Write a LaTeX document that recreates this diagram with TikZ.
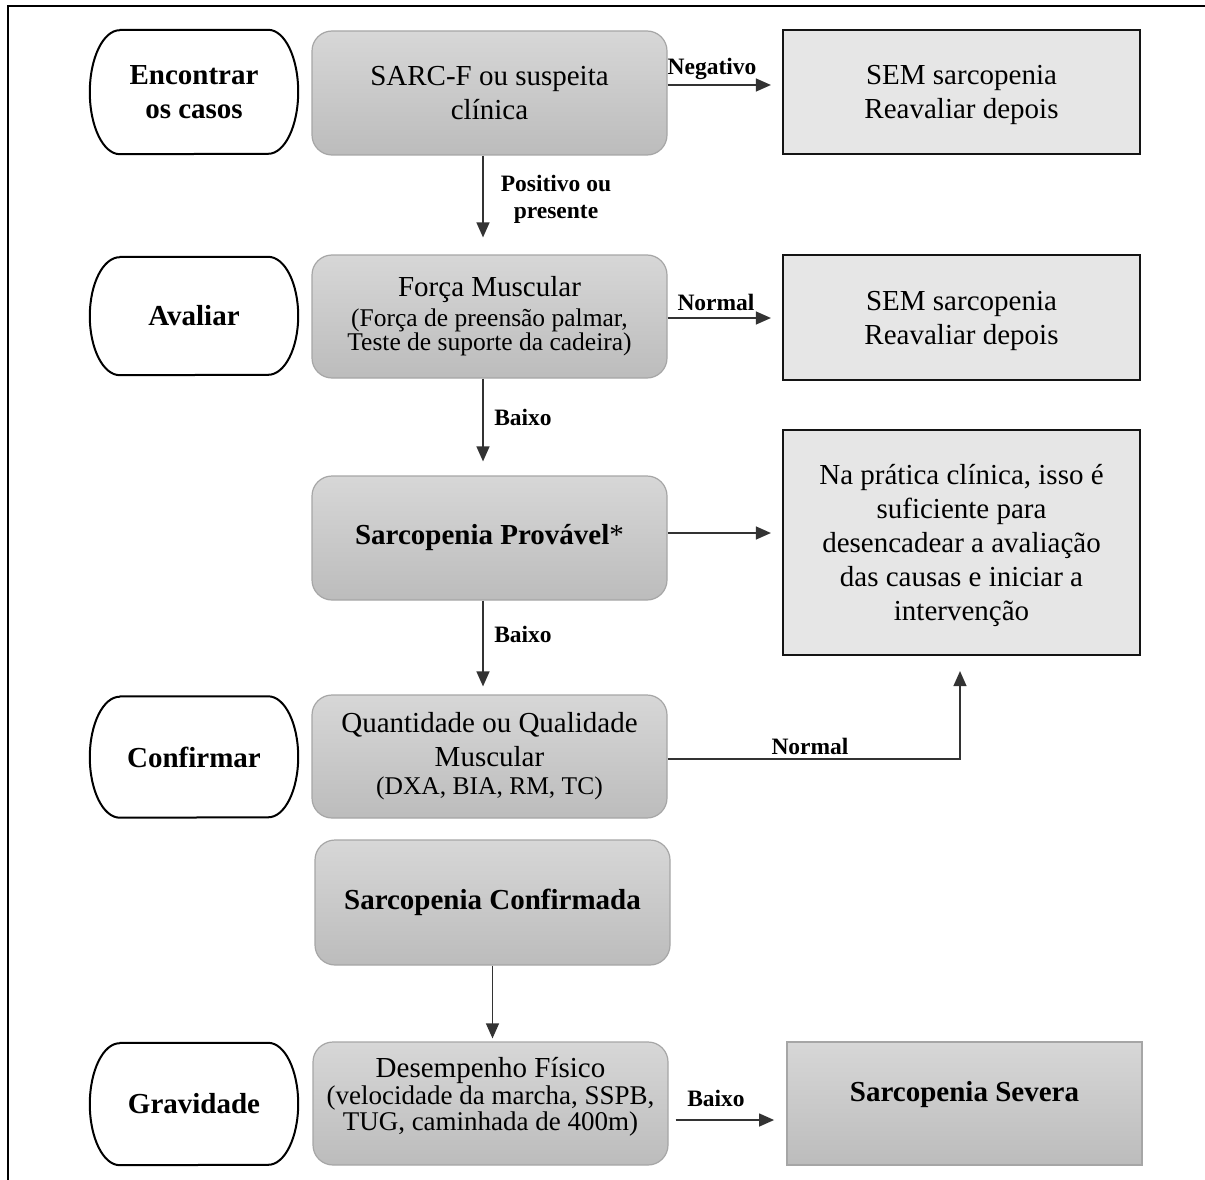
\documentclass[tikz,border=0pt]{standalone}
\usepackage{fontspec}
\setmainfont{Liberation Serif}
\usetikzlibrary{arrows.meta,calc}
\definecolor{boxtop}{HTML}{D7D7D7}
\definecolor{boxbot}{HTML}{BCBCBC}
\definecolor{boxedge}{HTML}{A6A6A6}
\definecolor{semfill}{HTML}{E6E6E6}
\definecolor{arrcol}{HTML}{333333}
\newcommand\subA{\fontsize{25.5}{27}\selectfont}
\newcommand\subB{\fontsize{27}{28}\selectfont}
\tikzset{
  gbox/.style={rectangle, rounded corners=20pt, top color=boxtop, bottom color=boxbot,
    draw=boxedge, line width=1.2pt, minimum width=355pt, minimum height=124pt,
    align=center, inner sep=0pt, font=\fontsize{29}{33.5}\selectfont},
  sembox/.style={rectangle, fill=semfill, draw=black!92, line width=2.2pt,
    minimum width=357pt, minimum height=124pt, align=center, inner sep=0pt,
    text depth=0pt, font=\fontsize{29}{34}\selectfont},
  sevbox/.style={rectangle, top color=boxtop, bottom color=boxbot, draw=boxedge,
    line width=1.8pt, minimum width=355pt, minimum height=123pt, align=center,
    inner sep=0pt, font=\bfseries\fontsize{29}{34}\selectfont},
  ovl/.style={rectangle, minimum width=208pt, align=center, inner sep=0pt,
    font=\bfseries\fontsize{29}{34}\selectfont},
  ovlline/.style={line width=2pt, draw=black, line join=round},
  lbl/.style={font=\bfseries\fontsize{23.5}{27}\selectfont, align=center, inner sep=0pt},
  arr/.style={draw=arrcol, line width=1.3pt, -{Triangle[length=15pt,width=13pt]}},
  frameline/.style={line width=2.4pt, draw=black}
}
\begin{document}
\begin{tikzpicture}[x=1pt,y=-1pt]
\useasboundingbox (0,0) rectangle (1205,1180);
\draw[frameline] (1205,6) -- (8,6) -- (8,1180);

% stage ovals
\node[ovl, minimum height=124pt] (o1) at (194,92) {Encontrar\\os casos};
\node[ovl, minimum height=118pt] (o2) at (194,316) {Avaliar};
\node[ovl, minimum height=121pt] (o3) at (194,757) {Confirmar};
\node[ovl, minimum height=122pt] (o4) at (194,1104) {Gravidade};
\foreach \n/\r in {o1/62,o2/59,o3/60.5,o4/61}{
  \draw[ovlline] ([xshift=30pt]\n.north west) -- ([xshift=-30pt]\n.north east)
    arc[start angle=90, end angle=-90, x radius=30pt, y radius=\r pt]
    -- ([xshift=30pt]\n.south west)
    arc[start angle=270, end angle=90, x radius=30pt, y radius=\r pt] -- cycle;
}

% main column
\node[gbox] (sarc) at (489.5,93) {SARC-F ou suspeita\\clínica};
\node[gbox, minimum height=123pt] (forca) at (489.5,316.5)
  {Força Muscular\\[-4pt]{\subA (Força de preensão palmar,}\\[-9pt]{\subA Teste de suporte da cadeira)}};
\node[gbox] (prov) at (489.5,538) {{\bfseries Sarcopenia Provável}*};
\node[gbox, minimum height=123pt] (quant) at (489.5,756.5)
  {Quantidade ou Qualidade\\Muscular\\[-5pt]{\subA (DXA, BIA, RM, TC)}};
\node[gbox, minimum height=125pt] (conf) at (492.5,902.5) {\bfseries Sarcopenia Confirmada};
\node[gbox, minimum height=123pt, text depth=20pt] (desemp) at (490.5,1103.5)
  {Desempenho Físico\\[-6pt]{\subB (velocidade da marcha, SSPB,}\\[-8pt]{\subB TUG, caminhada de 400m)}};

% right column
\node[sembox] (sem1) at (961.5,92) {SEM sarcopenia\\Reavaliar depois};
\node[sembox, minimum height=125pt] (sem2) at (961.5,317.5) {SEM sarcopenia\\Reavaliar depois};
\node[sembox, minimum height=225pt] (prat) at (961.5,542.5)
  {Na prática clínica, isso é\\suficiente para\\desencadear a avaliação\\das causas e iniciar a\\intervenção};
\node[sevbox, text depth=25pt] (sev) at (964.5,1103.5) {Sarcopenia Severa};

% connectors
\draw[arr, shorten >=11pt] ([yshift=8pt]sarc.east) -- ([yshift=8pt]sarc.east -| sem1.west);
\node[lbl] (lneg) at (712,69) {Negativo};

\draw[arr, shorten >=17pt] ([xshift=-6.5pt]sarc.south) -- ([xshift=-6.5pt]forca.north);
\node[lbl] (lpos) at (556,199.5) {Positivo ou\\presente};

\draw[arr, shorten >=11pt] ([yshift=-1.5pt]forca.east) -- ([yshift=-1.5pt]forca.east -| sem2.west);
\node[lbl] (lnorm1) at (716,302) {Normal};

\draw[arr, shorten >=14pt] ([xshift=-6.5pt]forca.south) -- ([xshift=-6.5pt]prov.north);
\node[lbl] (lbaixo1) at (523,417) {Baixo};

\draw[arr, shorten >=11pt] ([yshift=5pt]prov.east) -- ([yshift=5pt]prov.east -| prat.west);

\draw[arr, shorten >=8pt] ([xshift=-6.5pt]prov.south) -- ([xshift=-6.5pt]quant.north);
\node[lbl] (lbaixo2) at (523,634) {Baixo};

\draw[arr, shorten >=15pt] ([yshift=-2.5pt]quant.east) -| ([xshift=-1.5pt]prat.south);
\node[lbl] (lnorm2) at (810,746) {Normal};

\draw[arr, shorten >=3pt] (conf.south) -- (conf.south |- desemp.north);

\draw[arr, shorten <=7pt, shorten >=12pt] ([yshift=-16.5pt]desemp.east) -- ([yshift=-16.5pt]desemp.east -| sev.west);
\node[lbl] (lbaixo3) at (716,1098) {Baixo};
\end{tikzpicture}
\end{document}
